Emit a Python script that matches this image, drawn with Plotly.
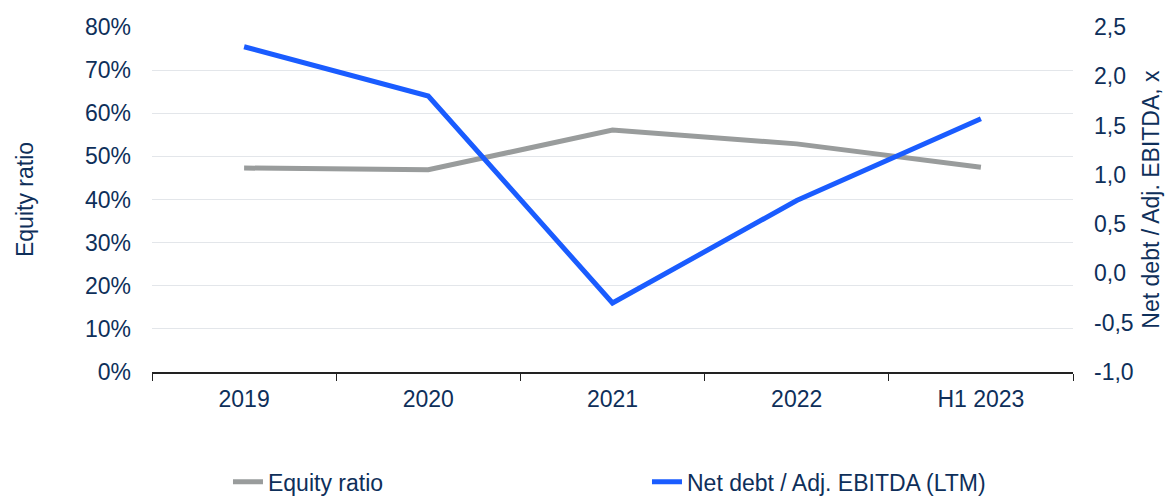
import plotly.graph_objects as go

categories = ["2019", "2020", "2021", "2022", "H1 2023"]
equity_ratio = [0.473, 0.469, 0.561, 0.529, 0.475]
net_debt_ebitda = [2.30, 1.80, -0.30, 0.74, 1.57]
right_tick_values = [-1.0, -0.5, 0.0, 0.5, 1.0, 1.5, 2.0, 2.5]
right_tick_labels = ["-1,0", "-0,5", "0,0", "0,5", "1,0", "1,5", "2,0", "2,5"]

TXT = "#0e2f5a"
FONT = "Liberation Sans, Arial, sans-serif"

fig = go.Figure()
fig.add_trace(go.Scatter(
    x=categories, y=equity_ratio, name="Equity ratio", mode="lines",
    line=dict(color="#999c9c", width=5), yaxis="y"))
fig.add_trace(go.Scatter(
    x=categories, y=net_debt_ebitda, name="Net debt / Adj. EBITDA (LTM)", mode="lines",
    line=dict(color="#1a5cff", width=5), yaxis="y2"))

fig.update_layout(
    width=1169, height=497,
    margin=dict(l=152, r=96, t=27, b=125, autoexpand=False),
    paper_bgcolor="white", plot_bgcolor="white",
    separators=", ",
    font=dict(family=FONT, size=23, color=TXT),
    showlegend=True,
    legend=dict(orientation="h", x=0.0825, y=-0.318, xanchor="left", yanchor="middle",
                entrywidth=374, entrywidthmode="pixels",
                font=dict(size=23, color=TXT), bgcolor="rgba(0,0,0,0)"),
    xaxis=dict(
        type="category", tickson="boundaries", ticks="outside", ticklen=7, tickwidth=1.3,
        tickcolor="#222", showline=True, linecolor="#222", linewidth=1.5,
        showgrid=False, ticklabelstandoff=6, tickfont=dict(size=23, color=TXT),
        range=[-0.5, 4.5], automargin=False),
    yaxis=dict(
        range=[0, 0.8], dtick=0.1, tickformat=".0%", showgrid=True,
        gridcolor="#e3e6ea", gridwidth=1, zeroline=False, showline=False,
        ticklabelstandoff=20, tickfont=dict(size=23, color=TXT), automargin=False,
        title=dict(text="Equity ratio", font=dict(size=23, color=TXT), standoff=44)),
    yaxis2=dict(
        range=[-1.0, 2.5], tickvals=right_tick_values, ticktext=right_tick_labels,
        overlaying="y", side="right",
        showgrid=False, zeroline=False, showline=False, automargin=False,
        ticklabelstandoff=20, tickfont=dict(size=23, color=TXT),
        title=dict(text="Net debt / Adj. EBITDA, x", font=dict(size=23, color=TXT), standoff=10)),
)

fig.write_html("out.html")
